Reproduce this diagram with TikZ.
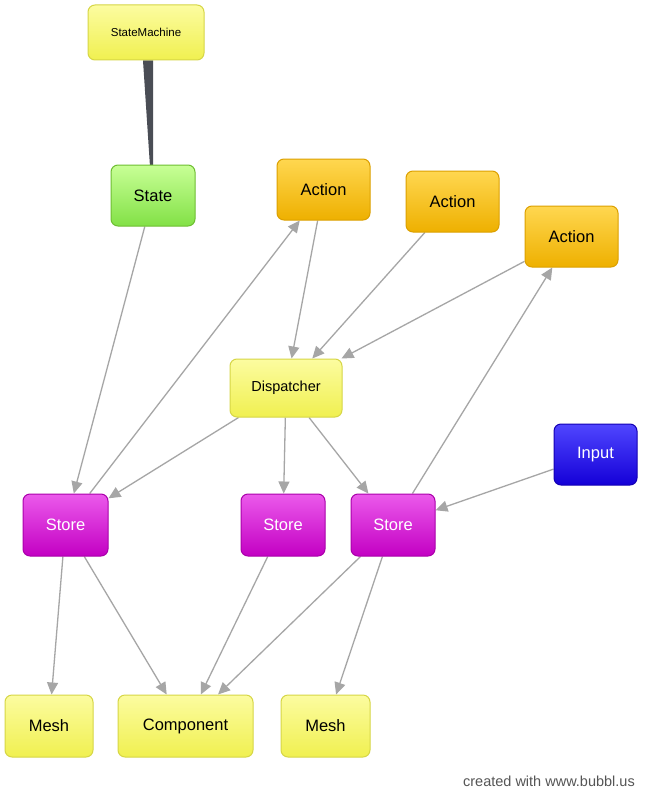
\documentclass[tikz,border=0pt]{standalone}
\usepackage{fontspec}
\setmainfont{Liberation Sans}
\usetikzlibrary{arrows.meta,calc,backgrounds}
\definecolor{edgegray}{HTML}{A6A6A6}
\definecolor{wedge}{HTML}{4A4D55}
\tikzset{
  box/.style={rounded corners=7pt, draw, line width=1pt, inner sep=0pt, font=\fontsize{16.5}{19}\selectfont},
  yel/.style={box, draw={rgb,255:red,214;green,214;blue,70}, top color={rgb,255:red,252;green,252;blue,160}, middle color={rgb,255:red,247;green,247;blue,104}, bottom color={rgb,255:red,240;green,240;blue,80}, text=black},
  grn/.style={box, draw={rgb,255:red,110;green,190;blue,50}, top color={rgb,255:red,200;green,255;blue,150}, middle color={rgb,255:red,160;green,240;blue,100}, bottom color={rgb,255:red,130;green,225;blue,70}, text=black},
  org/.style={box, draw={rgb,255:red,220;green,160;blue,0}, top color={rgb,255:red,255;green,215;blue,80}, middle color={rgb,255:red,250;green,192;blue,20}, bottom color={rgb,255:red,238;green,176;blue,0}, text=black},
  mag/.style={box, draw={rgb,255:red,170;green,0;blue,170}, top color={rgb,255:red,235;green,90;blue,235}, middle color={rgb,255:red,215;green,20;blue,215}, bottom color={rgb,255:red,195;green,0;blue,195}, text=white},
  blu/.style={box, draw={rgb,255:red,20;green,0;blue,180}, top color={rgb,255:red,80;green,70;blue,255}, middle color={rgb,255:red,30;green,10;blue,240}, bottom color={rgb,255:red,20;green,0;blue,215}, text=white},
  conn/.style={draw=edgegray, line width=1.3pt, -{Triangle[length=12pt,width=11pt]}, color=edgegray},
}
\begin{document}
\begin{tikzpicture}[x=1pt,y=-1pt]
\useasboundingbox (0,0) rectangle (645,800);
\node[yel, minimum width=116pt, minimum height=55pt, font=\fontsize{11.5}{14}\selectfont] (sm) at (146,32.5) {StateMachine};
\node[grn, minimum width=84pt, minimum height=61pt] (state) at (153,195.5) {State};
\node[org, minimum width=93pt, minimum height=61pt] (a1) at (323.5,189.5) {Action};
\node[org, minimum width=93pt, minimum height=61pt] (a2) at (452.5,201.5) {Action};
\node[org, minimum width=93pt, minimum height=61pt] (a3) at (571.5,236.5) {Action};
\node[yel, minimum width=112pt, minimum height=58pt, font=\fontsize{14.5}{17}\selectfont] (disp) at (286,388) {Dispatcher};
\node[blu, minimum width=83pt, minimum height=61pt] (input) at (595.5,454.5) {Input};
\node[mag, minimum width=85pt, minimum height=62pt] (s1) at (65.5,525) {Store};
\node[mag, minimum width=84pt, minimum height=62pt] (s2) at (283,525) {Store};
\node[mag, minimum width=84pt, minimum height=62pt] (s3) at (393,525) {Store};
\node[yel, minimum width=88pt, minimum height=62pt] (m1) at (49,726) {Mesh};
\node[yel, minimum width=135pt, minimum height=62pt] (comp) at (185.5,726) {Component};
\node[yel, minimum width=89pt, minimum height=62pt] (m2) at (325.5,726) {Mesh};
\node[anchor=base east, text={rgb,255:red,85;green,85;blue,85}, font=\fontsize{14.5}{17}\selectfont, inner sep=0pt] (credit) at (635,786) {created with www.bubbl.us};
\begin{scope}[on background layer]
\fill[white] (0,0) rectangle (645,800);
\fill[wedge] ($(sm.south)+(-3,0)$) -- ($(sm.south)+(7,0)$) -- ($(state.north)+(0,2)$) -- ($(state.north)+(-3,2)$) -- cycle;
\draw[conn] (state) -- (s1);
\draw[conn] (s1) -- (a1);
\draw[conn] (a1) -- (disp);
\draw[conn] (a2) -- (disp);
\draw[conn] (a3) -- (disp);
\draw[conn] (s3) -- (a3);
\draw[conn] (disp) -- (s1);
\draw[conn] (disp) -- (s2);
\draw[conn] (disp) -- (s3);
\draw[conn] (input) -- (s3);
\draw[conn] (s1) -- (m1);
\draw[conn] (s1) -- (comp);
\draw[conn] (s2) -- (comp);
\draw[conn] (s3) -- (comp);
\draw[conn] (s3) -- (m2);
\end{scope}
\end{tikzpicture}
\end{document}
